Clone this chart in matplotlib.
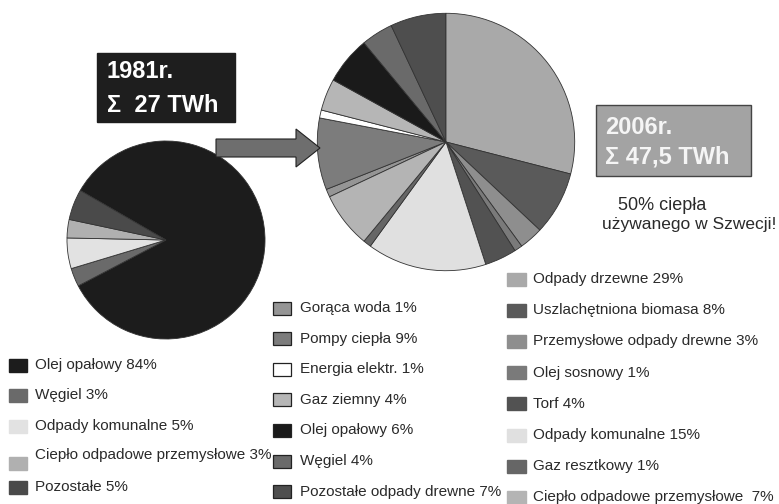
import matplotlib.pyplot as plt
from matplotlib.patches import Rectangle, FancyArrow

plt.rcParams['font.family'] = ['Liberation Sans', 'DejaVu Sans']

# 1981 - 27 TWh
labels_1981 = ['Olej opałowy 84%', 'Węgiel 3%', 'Odpady komunalne 5%',
               'Ciepło odpadowe przemysłowe 3%', 'Pozostałe 5%']
shares_1981 = [84, 3, 5, 3, 5]
colors_1981 = ['#1c1c1c', '#6a6a6a', '#e2e2e2', '#b0b0b0', '#4a4a4a']

# 2006 - 47,5 TWh
labels_2006 = ['Gorąca woda 1%', 'Pompy ciepła 9%', 'Energia elektr. 1%',
               'Gaz ziemny 4%', 'Olej opałowy 6%', 'Węgiel 4%',
               'Pozostałe odpady drewne 7%',
               'Odpady drzewne 29%', 'Uszlachętniona biomasa 8%',
               'Przemysłowe odpady drewne 3%', 'Olej sosnowy 1%', 'Torf 4%',
               'Odpady komunalne 15%', 'Gaz resztkowy 1%',
               'Ciepło odpadowe przemysłowe  7%']
shares_2006 = [1, 9, 1, 4, 6, 4, 7, 29, 8, 3, 1, 4, 15, 1, 7]
colors_2006 = ['#959595', '#7c7c7c', '#ffffff', '#b6b6b6', '#1a1a1a',
               '#6a6a6a', '#4e4e4e',
               '#a9a9a9', '#5a5a5a', '#8e8e8e', '#7a7a7a', '#525252',
               '#e0e0e0', '#666666', '#b4b4b4']

W, H = 779, 504
fig = plt.figure(figsize=(W / 100, H / 100), dpi=100)
fig.patch.set_facecolor('white')

wedge_style = dict(edgecolor='#333333', linewidth=0.6)

def pie_axes(cx, cy, r):
    return fig.add_axes([(cx - r) / W, (H - cy - r) / H, 2 * r / W, 2 * r / H])

ax1 = pie_axes(166, 240, 100)
ax1.pie(shares_1981, colors=colors_1981, startangle=150, counterclock=False,
        wedgeprops=wedge_style)
ax1.set_xlim(-1.01, 1.01)
ax1.set_ylim(-1.01, 1.01)
ax1.axis('off')

ax2 = pie_axes(446, 142, 130)
ax2.pie(shares_2006, colors=colors_2006, startangle=90 + 3.6 * sum(shares_2006[:7]),
        counterclock=False, wedgeprops=wedge_style)
ax2.set_xlim(-1.01, 1.01)
ax2.set_ylim(-1.01, 1.01)
ax2.axis('off')

ov = fig.add_axes([0, 0, 1, 1])
ov.set_xlim(0, W)
ov.set_ylim(H, 0)
ov.axis('off')
ov.patch.set_alpha(0)

# arrow between pies
ov.add_patch(FancyArrow(216, 148, 104, 0, width=18, head_width=38, head_length=24,
                        length_includes_head=True, facecolor='#6e6e6e',
                        edgecolor='#222222', linewidth=0.8))

# year boxes
ov.add_patch(Rectangle((97, 53), 138, 69, facecolor='#1e1e1e', edgecolor='#1e1e1e'))
ov.text(107, 72, '1981r.', color='white', fontsize=17, fontweight='bold', va='center')
ov.text(107, 105, 'Σ  27 TWh', color='white', fontsize=17, fontweight='bold', va='center')

ov.add_patch(Rectangle((596, 105), 155, 71, facecolor='#a3a3a3', edgecolor='#444444', linewidth=1))
ov.text(605, 127, '2006r.', color='#f5f5f5', fontsize=17, fontweight='bold', va='center')
ov.text(605, 157, 'Σ 47,5 TWh', color='#f5f5f5', fontsize=17, fontweight='bold', va='center')

ov.text(662, 205, '50% ciepła', color='#2a2a2a', fontsize=13, ha='center', va='center')
ov.text(776, 225, 'używanego w Szwecji!', color='#2a2a2a', fontsize=12.5, ha='right', va='center')

txt = dict(color='#2a2a2a', fontsize=11, va='center')

# legend 1981
for i, (lab, col) in enumerate(zip(labels_1981, colors_1981)):
    y = 365 + i * 30.5
    by = y + 7 if i == 3 else y
    ty = y - 1 if i == 3 else y
    ov.add_patch(Rectangle((9, by - 6.5), 18, 13, facecolor=col, edgecolor=col))
    ov.text(35, ty, lab, **txt)

# legend 2006, left column
for i in range(7):
    y = 308 + i * 30.6
    ov.add_patch(Rectangle((273, y - 6.5), 18, 13, facecolor=colors_2006[i],
                           edgecolor='#222222', linewidth=0.9))
    ov.text(300, y, labels_2006[i], **txt)

# legend 2006, right column
for k, i in enumerate(range(7, 15)):
    y = 279 + k * 31.2
    ov.add_patch(Rectangle((507, y - 6.5), 19, 13, facecolor=colors_2006[i],
                           edgecolor=colors_2006[i]))
    ov.text(533, y, labels_2006[i], **txt)

fig.savefig('out.png', dpi=100, facecolor='white')
